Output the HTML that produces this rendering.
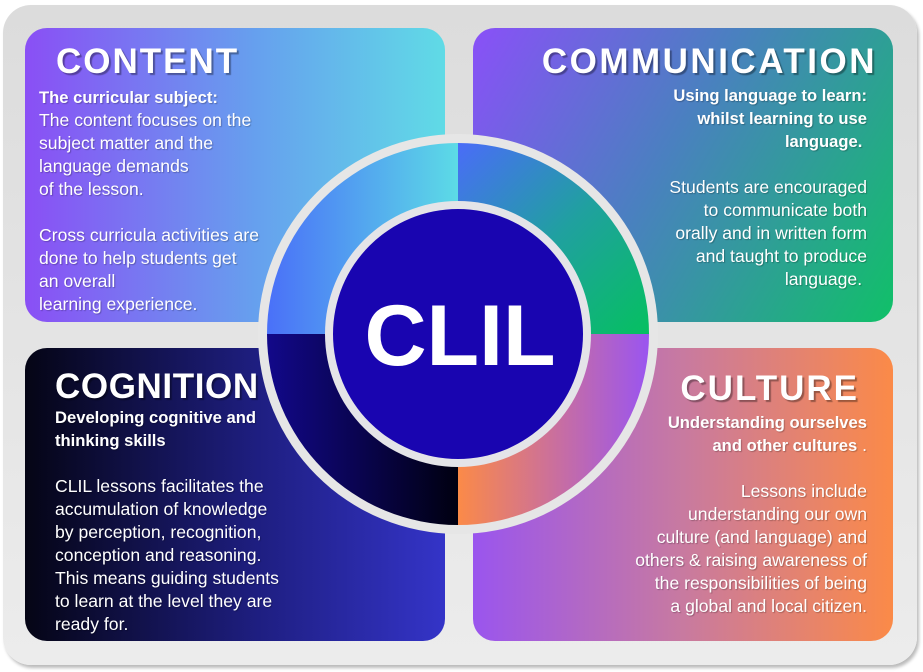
<!DOCTYPE html>
<html><head><style>
body{margin:0;width:923px;height:672px;background:#fff;position:relative;overflow:hidden;font-family:"Liberation Sans",sans-serif}
.frame{position:absolute;left:3px;top:5px;width:914px;height:660px;border-radius:28px;background:linear-gradient(#dcdcdc,#ececec);box-shadow:2px 3px 3px #bbb}
.p{position:absolute;width:420px;border-radius:22px;overflow:hidden}
.t{position:absolute;color:#fff;font-weight:bold;font-size:35px;line-height:40px;text-shadow:2px 2px 1px rgba(0,0,0,.35);white-space:nowrap}
.b{position:absolute;color:#fff;font-size:17.6px;line-height:23px;white-space:nowrap;text-shadow:1px 1px 1px rgba(0,0,0,.25)}
.b b{font-weight:bold;font-size:16.6px}
.r{text-align:right}
</style></head><body>
<div class="frame"></div>
<div class="p" style="left:25px;top:28px;height:294px;background:linear-gradient(90deg,#8a4ff5,#66a0ee 55%,#60dbe6)"></div>
<div class="p" style="left:473px;top:28px;height:294px;background:linear-gradient(120deg,#8a50f8 0%,#4a80c0 45%,#10c068 100%)"></div>
<div class="p" style="left:25px;top:348px;height:293px;background:linear-gradient(90deg,#050515,#1e1e80 55%,#3434c8)"></div>
<div class="p" style="left:473px;top:348px;height:293px;background:linear-gradient(90deg,#9a55ee,#c87aa0 50%,#fb8a48)"></div>

<svg style="position:absolute;left:0;top:0" width="923" height="672">
<defs>
<linearGradient id="g1" x1="0" x2="1" y1="0" y2="0"><stop offset="0" stop-color="#4a70f8"/><stop offset="1" stop-color="#5cdbe6"/></linearGradient>
<linearGradient id="g2" x1="0" x2="1" y1="0" y2="1"><stop offset="0" stop-color="#4a6cf8"/><stop offset="0.5" stop-color="#20a0a0"/><stop offset="1" stop-color="#05c060"/></linearGradient>
<linearGradient id="g3" x1="0" x2="1" y1="0" y2="0"><stop offset="0" stop-color="#12088a"/><stop offset="1" stop-color="#000010"/></linearGradient>
<linearGradient id="g4" x1="0" x2="1" y1="0" y2="0"><stop offset="0" stop-color="#fb8a48"/><stop offset="1" stop-color="#9a55f0"/></linearGradient>
</defs>
<circle cx="458" cy="334" r="200" fill="#e6e6e6"/>
<path d="M458 334 L267 334 A191 191 0 0 1 458 143 Z" fill="url(#g1)"/>
<path d="M458 334 L458 143 A191 191 0 0 1 649 334 Z" fill="url(#g2)"/>
<path d="M458 334 L458 525 A191 191 0 0 1 267 334 Z" fill="url(#g3)"/>
<path d="M458 334 L649 334 A191 191 0 0 1 458 525 Z" fill="url(#g4)"/>
<circle cx="458" cy="334" r="133" fill="#e4e4e8"/>
<circle cx="458" cy="334" r="125" fill="#1905b0"/>
<text x="460" y="365" text-anchor="middle" fill="#fff" font-family="Liberation Sans" font-weight="bold" font-size="86">CLIL</text>
</svg>

<div class="t" style="left:56px;top:42px;letter-spacing:2px">CONTENT</div>
<div class="b" style="left:39px;top:86px"><b>The curricular subject:</b><br>The content focuses on the<br>subject matter and the<br>language demands<br>of the lesson.<br><br>Cross curricula activities are<br>done to help students get<br>an overall<br>learning experience.</div>

<div class="t" style="right:46px;top:42px;letter-spacing:2.5px">COMMUNICATION</div>
<div class="b r" style="right:56px;top:84px"><b>Using language to learn:<br>whilst learning to use<br>language.&nbsp;</b><br><br>Students are encouraged<br>to communicate both<br>orally and in written form<br>and taught to produce<br>language.&nbsp;</div>

<div class="t" style="left:55px;top:367px;letter-spacing:0.6px">COGNITION</div>
<div class="b" style="left:55px;top:406px"><b>Developing cognitive and<br>thinking skills</b><br><br>CLIL lessons facilitates the<br>accumulation of knowledge<br>by perception, recognition,<br>conception and reasoning.<br>This means guiding students<br>to learn at the level they are<br>ready for.</div>

<div class="t" style="right:64px;top:369px;letter-spacing:2px">CULTURE</div>
<div class="b r" style="right:56px;top:411px"><b>Understanding ourselves<br>and other cultures</b> .<br><br>Lessons include<br>understanding our own<br>culture (and language) and<br>others &amp; raising awareness of<br>the responsibilities of being<br>a global and local citizen.</div>
</body></html>
